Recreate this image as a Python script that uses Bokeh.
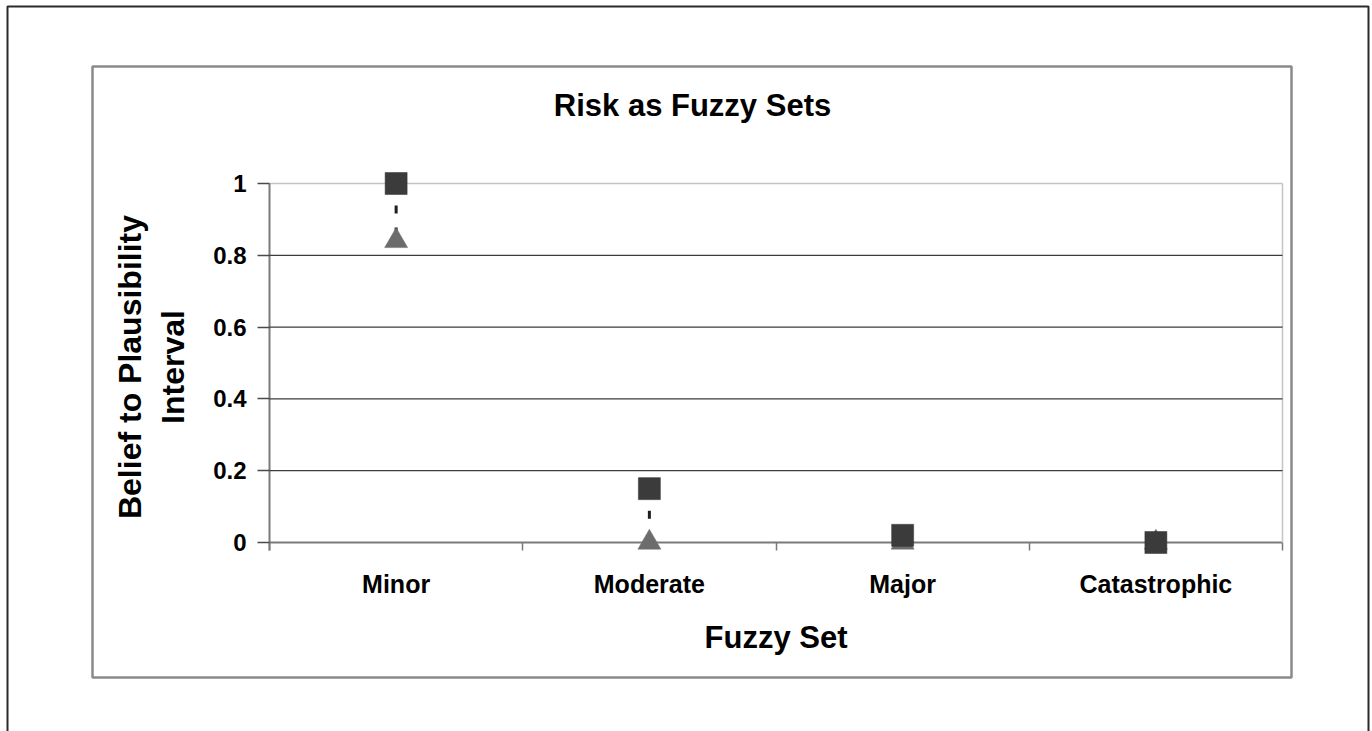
from bokeh.plotting import figure
from bokeh.models import (Range1d, LinearAxis, FixedTicker, BoxAnnotation,
                          Label, ColumnDataSource)
from bokeh.embed import file_html
from bokeh.resources import INLINE

# --- data -------------------------------------------------------------
categories = ["Minor", "Moderate", "Major", "Catastrophic"]
plausibility = [1.0, 0.15, 0.02, 0.0]
belief = [0.84, 0.0, 0.0, 0.0]
y_ticks = [0, 0.2, 0.4, 0.6, 0.8, 1]
y_tick_labels = ["0", "0.2", "0.4", "0.6", "0.8", "1"]

FONT = "Liberation Sans"
n = len(categories)

# category centres / boundaries on a numeric axis
x_centers = [i + 0.5 for i in range(n)]
x_bounds = list(range(n + 1))

src = ColumnDataSource(dict(x=x_centers, cat=categories,
                            high=plausibility, low=belief))
grid_src = ColumnDataSource(dict(y=y_ticks[1:-1]))

# --- layout (pixels on the page) -------------------------------------
W, H = 1372, 731
PLOT_L, PLOT_R = 269, 1282     # x of first / last category boundary
Y0_PX, Y1_PX = 542, 183        # y of value 0 / value 1
x_unit = (PLOT_R - PLOT_L) / n
y_unit = Y0_PX - Y1_PX

# the frame fills the whole canvas; axes are pinned with fixed_location
p = figure(width=W, height=H, output_backend="svg", toolbar_location=None,
           x_range=Range1d(-PLOT_L / x_unit, n + (W - PLOT_R) / x_unit),
           y_range=Range1d(-(H - Y0_PX) / y_unit, 1 + Y1_PX / y_unit),
           x_axis_type=None, y_axis_type=None,
           min_border=0, min_border_left=0, min_border_right=0,
           min_border_top=0, min_border_bottom=0)
p.outline_line_color = None
p.background_fill_color = "white"
p.border_fill_color = "white"
p.xgrid.visible = False
p.ygrid.visible = False

# horizontal gridlines across the category span
p.segment(x0=0, x1=n, y0="y", y1="y", source=grid_src,
          line_color="#3c3c3c", line_width=1.3)

# y axis
yax = LinearAxis(ticker=FixedTicker(ticks=y_ticks), bounds=(-8 / y_unit, 1),
                 fixed_location=0,
                 major_label_overrides={t: s for t, s in zip(y_ticks, y_tick_labels)},
                 axis_label="Belief to Plausibility\nInterval")
yax.axis_line_color = "#7a7a7a"
yax.axis_line_width = 2
yax.major_tick_line_color = "#4a4a4a"
yax.major_tick_line_width = 1.3
yax.major_tick_out = 12
yax.major_tick_in = 0
yax.minor_tick_line_color = None
yax.major_label_standoff = 11
yax.major_label_text_font = FONT
yax.major_label_text_font_style = "bold"
yax.major_label_text_font_size = "24px"
yax.major_label_text_color = "black"
yax.axis_label_text_font = FONT
yax.axis_label_text_font_style = "bold"
yax.axis_label_text_font_size = "32px"
yax.axis_label_text_color = "black"
yax.axis_label_standoff = 19
yax.level = "underlay"
p.add_layout(yax, "left")

# right border of the plot area
rax = LinearAxis(ticker=FixedTicker(ticks=[]), bounds=(0, 1), fixed_location=n,
                 major_label_text_font_size="0px")
rax.axis_line_color = "#c4c4c4"
rax.axis_line_width = 1.5
rax.major_tick_line_color = None
rax.minor_tick_line_color = None
rax.level = "underlay"
p.add_layout(rax, "right")

# top border of the plot area (value 1)
tax = LinearAxis(ticker=FixedTicker(ticks=[]), bounds=(0, n), fixed_location=1,
                 major_label_text_font_size="0px")
tax.axis_line_color = "#c4c4c4"
tax.axis_line_width = 1.5
tax.major_tick_line_color = None
tax.minor_tick_line_color = None
tax.level = "underlay"
p.add_layout(tax, "above")

# x axis at value 0, category ticks on the boundaries
xax = LinearAxis(ticker=FixedTicker(ticks=x_centers, minor_ticks=x_bounds),
                 bounds=(0, n), fixed_location=0,
                 major_label_overrides={c: s for c, s in zip(x_centers, categories)},
                 axis_label="Fuzzy Set")
xax.axis_line_color = "#7a7a7a"
xax.axis_line_width = 2
xax.major_tick_line_color = None
xax.minor_tick_line_color = "#7a7a7a"
xax.minor_tick_line_width = 1.5
xax.minor_tick_out = 8
xax.minor_tick_in = 0
xax.major_tick_out = 8
xax.major_tick_in = 0
xax.major_label_standoff = 19
xax.major_label_text_font = FONT
xax.major_label_text_font_style = "bold"
xax.major_label_text_font_size = "25px"
xax.major_label_text_color = "black"
xax.axis_label_text_font = FONT
xax.axis_label_text_font_style = "bold"
xax.axis_label_text_font_size = "31px"
xax.axis_label_text_color = "black"
xax.axis_label_standoff = 19
xax.level = "underlay"
p.add_layout(xax, "below")

# belief-to-plausibility interval
p.segment(x0="x", y0="high", x1="x", y1="low", source=src,
          line_color="#1e1e1e", line_width=3, line_dash="8 14")
# belief (triangles) under plausibility (squares)
p.scatter(x="x", y="low", source=src, marker="triangle", size=23,
          fill_color="#6c6c6c", line_color="#6c6c6c", line_width=0.5)
p.scatter(x="x", y="high", source=src, marker="square", size=22,
          fill_color="#3b3b3b", line_color="#333333", line_width=0.5)

# chart area box and outer page frame
p.add_layout(BoxAnnotation(left=92, right=1291, top=66, bottom=677,
                           left_units="canvas", right_units="canvas",
                           top_units="canvas", bottom_units="canvas",
                           fill_color=None, fill_alpha=0, line_alpha=1,
                           line_color="#8a8a8a", line_width=2.5, level="overlay"))
p.add_layout(BoxAnnotation(left=7, right=1368, top=6, bottom=H + 20,
                           left_units="canvas", right_units="canvas",
                           top_units="canvas", bottom_units="canvas",
                           fill_color=None, fill_alpha=0, line_alpha=1,
                           line_color="#2a2a2a", line_width=2, level="overlay"))

# chart title
p.add_layout(Label(x=692, y=105, x_units="canvas", y_units="canvas",
                   text="Risk as Fuzzy Sets", text_align="center",
                   text_baseline="middle", text_font=FONT,
                   text_font_style="bold", text_font_size="31px",
                   text_color="black"))

open("out.html", "w").write(file_html(p, INLINE))
